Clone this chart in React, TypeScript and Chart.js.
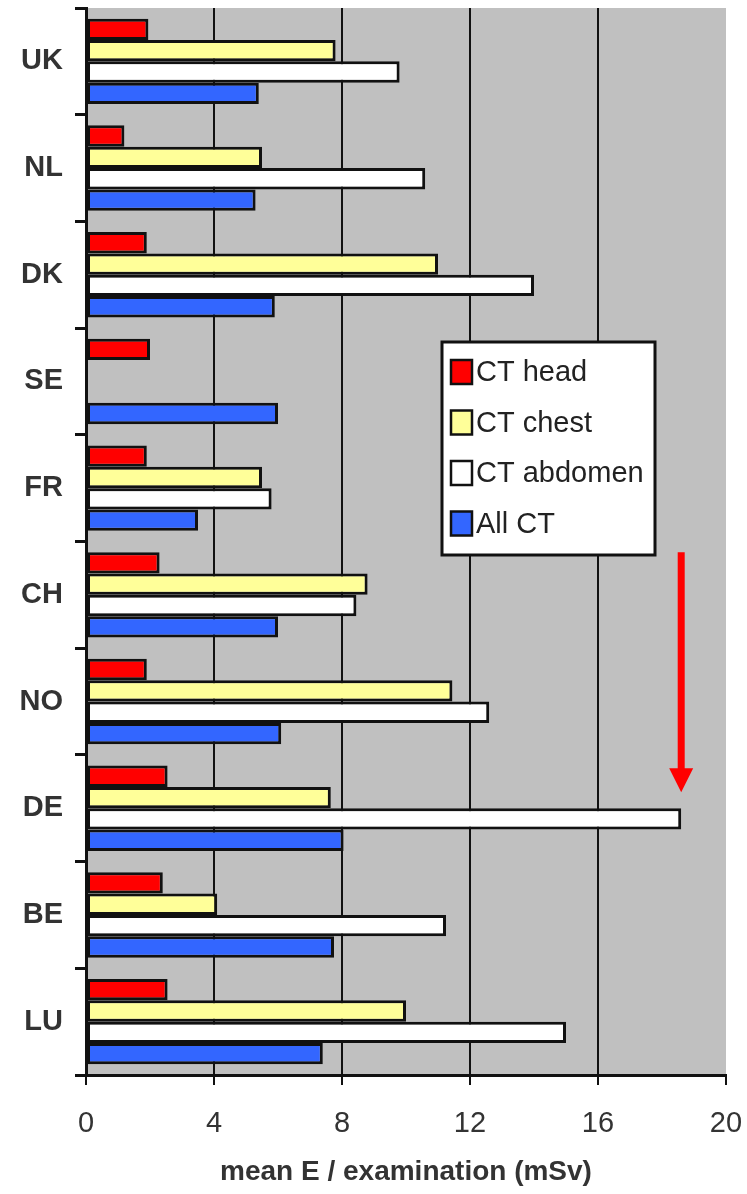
import React, { useEffect, useRef } from "react";
import { Chart, registerables } from "chart.js";

Chart.register(...registerables);

const countries = ["UK", "NL", "DK", "SE", "FR", "CH", "NO", "DE", "BE", "LU"];
const ctHead = [1.95, 1.2, 1.9, 2.0, 1.9, 2.3, 1.9, 2.55, 2.4, 2.55];
const ctChest = [7.8, 5.5, 11.0, null, 5.5, 8.8, 11.45, 7.65, 4.1, 10.0];
const ctAbdomen = [9.8, 10.6, 14.0, null, 5.8, 8.45, 12.6, 18.6, 11.25, 15.0];
const allCT = [5.4, 5.3, 5.9, 6.0, 3.5, 6.0, 6.1, 8.05, 7.75, 7.4];
const seriesNames = ["CT head", "CT chest", "CT abdomen", "All CT"];
const seriesColors = ["#ff0000", "#ffff99", "#ffffff", "#3366ff"];
const xMin = 0;
const xMax = 20;
const xStep = 4;
const axisTitle = "mean E / examination (mSv)";

const FONT = "'Liberation Sans', Arial, sans-serif";

const bgPlugin = {
  id: "plotBg",
  beforeDraw(chart: any) {
    const { ctx, chartArea } = chart;
    ctx.save();
    ctx.fillStyle = "#c0c0c0";
    ctx.fillRect(chartArea.left, chartArea.top, chartArea.right - chartArea.left, chartArea.bottom - chartArea.top);
    ctx.restore();
  },
};

const overlayPlugin = {
  id: "overlay",
  afterDraw(chart: any) {
    const { ctx, chartArea, scales } = chart;
    const xs = scales.x;
    const ys = scales.y;
    // legend box
    const lx = chartArea.left + 356;
    const ly = chartArea.top + 334;
    const lw = 213;
    const lh = 213;
    ctx.save();
    ctx.fillStyle = "#ffffff";
    ctx.fillRect(lx, ly, lw, lh);
    ctx.lineWidth = 3;
    ctx.strokeStyle = "#111";
    ctx.strokeRect(lx, ly, lw, lh);
    ctx.font = `29px ${FONT}`;
    ctx.textBaseline = "middle";
    ctx.textAlign = "left";
    chart.data.datasets.forEach((ds: any, i: number) => {
      const cy = ly + 30 + i * 50.5;
      ctx.fillStyle = ds.backgroundColor;
      ctx.fillRect(lx + 9, cy - 12, 21, 24);
      ctx.lineWidth = 2.5;
      ctx.strokeStyle = "#111";
      ctx.strokeRect(lx + 9, cy - 12, 21, 24);
      ctx.fillStyle = "#222";
      ctx.fillText(ds.label, lx + 34, cy + 1);
    });
    // red arrow pointing at DE abdomen
    const deIdx = countries.indexOf("DE");
    const chIdx = countries.indexOf("CH");
    const ax = xs.getPixelForValue(ctAbdomen[deIdx] as number);
    const catH = ys.getPixelForValue(1) - ys.getPixelForValue(0);
    const y0 = ys.getPixelForValue(chIdx) - 0.4 * catH;
    const yTip = ys.getPixelForValue(deIdx) - 0.15 * catH;
    ctx.strokeStyle = "#ff0000";
    ctx.fillStyle = "#ff0000";
    ctx.lineWidth = 7;
    ctx.beginPath();
    ctx.moveTo(ax, y0);
    ctx.lineTo(ax, yTip - 20);
    ctx.stroke();
    ctx.beginPath();
    ctx.moveTo(ax - 12, yTip - 24);
    ctx.lineTo(ax + 12, yTip - 24);
    ctx.lineTo(ax, yTip);
    ctx.closePath();
    ctx.fill();
    ctx.restore();
  },
};

export default function App() {
  const ref = useRef<HTMLCanvasElement | null>(null);
  useEffect(() => {
    if (!ref.current) return;
    const seriesData = [ctHead, ctChest, ctAbdomen, allCT];
    const chart = new Chart(ref.current, {
      type: "bar",
      data: {
        labels: countries,
        datasets: seriesData.map((d, i) => ({
          label: seriesNames[i],
          data: d as any,
          backgroundColor: seriesColors[i],
          borderColor: "#111",
          borderWidth: 3,
          borderSkipped: false,
          categoryPercentage: 0.8,
          barPercentage: 1.0,
        })),
      },
      options: {
        indexAxis: "y",
        animation: false,
        responsive: true,
        maintainAspectRatio: false,
        layout: { padding: { top: 8, right: 21, left: 0, bottom: 0 } },
        plugins: {
          legend: { display: false },
          tooltip: { enabled: false },
        },
        scales: {
          x: {
            type: "linear",
            min: xMin,
            max: xMax,
            afterFit(scale: any) {
              scale.height = 119;
              scale.paddingLeft = 0;
              scale.paddingRight = 0;
            },
            ticks: {
              stepSize: xStep,
              padding: 22,
              color: "#333",
              font: { family: FONT, size: 29 },
            },
            grid: {
              color: (c: any) => (c.tick && (c.tick.value === xMax || c.tick.value === xMin) ? "rgba(0,0,0,0)" : "#111"),
              tickColor: "#111",
              lineWidth: 2,
              tickLength: 10,
              drawTicks: true,
            },
            border: { display: true, color: "#111", width: 3 },
            title: {
              display: true,
              text: axisTitle,
              color: "#333",
              font: { family: FONT, size: 28, weight: "bold" },
              padding: { top: 0, bottom: 5 },
            },
          },
          y: {
            afterFit(scale: any) {
              scale.width = 86;
              scale.paddingTop = 0;
              scale.paddingBottom = 0;
            },
            ticks: {
              padding: 12,
              color: "#333",
              font: { family: FONT, size: 29, weight: "bold" },
            },
            grid: {
              offset: true,
              drawOnChartArea: false,
              drawTicks: true,
              tickLength: 11,
              color: "#111",
              lineWidth: 3,
            },
            border: { display: true, color: "#111", width: 3 },
          },
        },
      } as any,
      plugins: [bgPlugin, overlayPlugin],
    });
    return () => chart.destroy();
  }, []);
  return (
    <div style={{ position: "absolute", left: 0, top: 0, width: 747, height: 1194, background: "#fff" }}>
      <canvas ref={ref} />
    </div>
  );
}
